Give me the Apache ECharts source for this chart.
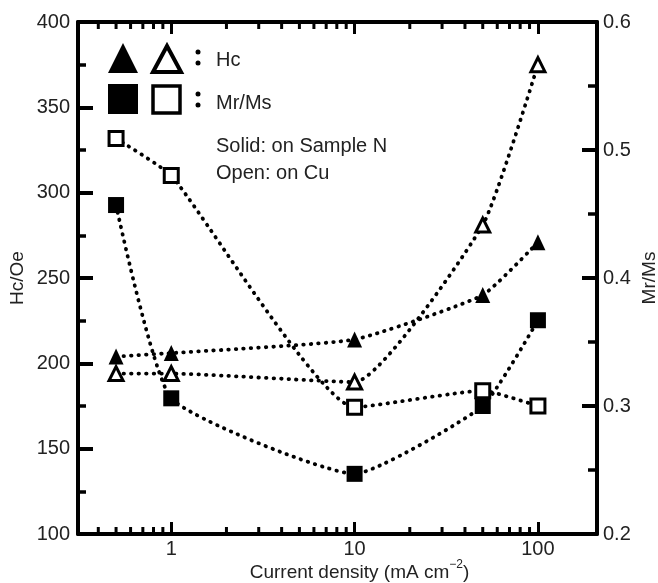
<!DOCTYPE html>
<html lang="en">
<head>
  <meta charset="UTF-8">
  <script src="https://cdn.jsdelivr.net/npm/echarts@6/dist/echarts.min.js"></script>
  <title>Hc and Mr/Ms vs current density</title>
</head>
<body style="margin: 0; background: #fff;">
<div id="chart" style="width: 658px; height: 583px;"></div>
<script type="text/javascript">
  // current density (mA cm^-2)
  let density  = [0.5, 1, 10, 50, 100];
  // coercivity, Oe
  let hcSolid  = [204, 206, 214, 240, 271];
  let hcOpen   = [194, 194, 189, 281, 375];
  // squareness
  let mrSolid  = [0.457, 0.306, 0.247, 0.300, 0.367];
  let mrOpen   = [0.509, 0.480, 0.299, 0.312, 0.300];
  // log-axis minor tick positions
  let xMinor   = [0.4, 0.5, 0.6, 0.7, 0.8, 0.9, 2, 3, 4, 5, 6, 7, 8, 9, 20, 30, 40, 50, 60, 70, 80, 90];

  const FONT = "'Liberation Sans', Arial, sans-serif";
  const dotted = {color: '#000', width: 3.8, type: [0.5, 7], cap: 'round'};

  function pairs(xs, ys) {
    return xs.map(function (x, i) { return [x, ys[i]]; });
  }

  function lineSeries(name, ys, yIndex, symbol, size, open) {
    return {
      name: name,
      type: 'line',
      yAxisIndex: yIndex,
      data: pairs(density, ys),
      smooth: 0.15,
      symbol: symbol,
      symbolSize: size,
      lineStyle: dotted,
      itemStyle: open
          ? {color: '#fff', borderColor: '#000', borderWidth: 3, opacity: 1}
          : {color: '#000', borderWidth: 0, opacity: 1},
      emphasis: {disabled: true},
      animation: false,
      z: open ? 4 : 3
    };
  }

  function drawChart() {
    let chart = echarts.init(document.getElementById('chart'));
    let xCommon = {
      type: 'log',
      min: 0.31,
      max: 210,
      axisLine: {lineStyle: {color: '#000', width: 4}},
      axisTick: {inside: true, length: 12, lineStyle: {color: '#000', width: 3}},
      splitLine: {show: false},
      minorTick: {show: false}
    };
    let option = {
      backgroundColor: '#fff',
      animation: false,
      grid: {left: 78, right: 61, top: 22, bottom: 49, containLabel: false, outerBoundsMode: 'none'},
      xAxis: [
        Object.assign({}, xCommon, {
          position: 'bottom',
          name: 'Current density (mA cm{sup|\u22122})',
          nameLocation: 'middle',
          nameGap: 25,
          nameMoveOverlap: false,
          nameTextStyle: {
            fontFamily: FONT, fontSize: 19, color: '#222', lineHeight: 28,
            padding: [0, 0, 0, 44],
            rich: {sup: {fontFamily: FONT, fontSize: 12, color: '#222', verticalAlign: 'top', lineHeight: 12}}
          },
          axisLabel: {
            fontFamily: FONT, fontSize: 20, color: '#222', margin: 5,
            showMinLabel: false, showMaxLabel: false,
            formatter: function (v) { return String(Math.round(v)); }
          }
        }),
        Object.assign({}, xCommon, {
          position: 'top',
          axisLabel: {show: false}
        })
      ],
      yAxis: [
        {
          type: 'value',
          position: 'left',
          min: 100, max: 400, interval: 50,
          name: 'Hc/Oe',
          nameLocation: 'middle',
          nameRotate: 90,
          nameGap: 51,
          nameMoveOverlap: false,
          nameTextStyle: {fontFamily: FONT, fontSize: 19, color: '#222'},
          axisLine: {show: true, lineStyle: {color: '#000', width: 4}},
          axisTick: {show: true, inside: true, length: 15, lineStyle: {color: '#000', width: 4}},
          minorTick: {show: true, splitNumber: 2, length: 8, lineStyle: {color: '#000', width: 3.5}},
          axisLabel: {fontFamily: FONT, fontSize: 20, color: '#222', margin: 8},
          splitLine: {show: false}
        },
        {
          type: 'value',
          position: 'right',
          min: 0.2, max: 0.6, interval: 0.1,
          name: 'Mr/Ms',
          nameLocation: 'middle',
          nameRotate: 90,
          nameGap: 43,
          nameMoveOverlap: false,
          nameTextStyle: {fontFamily: FONT, fontSize: 19, color: '#222'},
          axisLine: {show: true, lineStyle: {color: '#000', width: 4}},
          axisTick: {show: true, inside: true, length: 15, lineStyle: {color: '#000', width: 4}},
          minorTick: {show: true, splitNumber: 2, length: 9, lineStyle: {color: '#000', width: 3.5}},
          axisLabel: {
            fontFamily: FONT, fontSize: 20, color: '#222', margin: 6,
            formatter: function (v) { return v.toFixed(1); }
          },
          splitLine: {show: false}
        }
      ],
      series: [
        {
          type: 'custom',
          name: 'xMinor',
          xAxisIndex: 0,
          yAxisIndex: 0,
          clip: false,
          silent: true,
          data: xMinor.map(function (v) { return [v, 100]; }),
          renderItem: function (params, api) {
            let x = api.coord([api.value(0), 100])[0];
            let cs = params.coordSys;
            let style = {stroke: '#000', lineWidth: 3};
            return {
              type: 'group',
              children: [
                {type: 'line', shape: {x1: x, y1: cs.y + cs.height, x2: x, y2: cs.y + cs.height - 7}, style: style},
                {type: 'line', shape: {x1: x, y1: cs.y, x2: x, y2: cs.y + 7}, style: style}
              ]
            };
          },
          z: 1
        },
        lineSeries('Hc solid', hcSolid, 0, 'triangle', [15, 16], false),
        lineSeries('Hc open', hcOpen, 0, 'triangle', [14, 14], true),
        lineSeries('Mr/Ms solid', mrSolid, 1, 'rect', 16, false),
        lineSeries('Mr/Ms open', mrOpen, 1, 'rect', 14, true)
      ],
      graphic: [
        {type: 'polygon', shape: {points: [[108, 73], [123, 43], [138, 73]]}, style: {fill: '#000'}},
        {type: 'polygon', shape: {points: [[153, 72], [167, 46], [181, 72]]}, style: {fill: '#fff', stroke: '#000', lineWidth: 4}},
        {type: 'rect', shape: {x: 108, y: 84, width: 30, height: 30}, style: {fill: '#000'}},
        {type: 'rect', shape: {x: 153, y: 86, width: 27, height: 27}, style: {fill: '#fff', stroke: '#000', lineWidth: 3.5}},
        {type: 'circle', shape: {cx: 198, cy: 52, r: 2.5}, style: {fill: '#000'}},
        {type: 'circle', shape: {cx: 198, cy: 63, r: 2.5}, style: {fill: '#000'}},
        {type: 'circle', shape: {cx: 198, cy: 94, r: 2.5}, style: {fill: '#000'}},
        {type: 'circle', shape: {cx: 198, cy: 105, r: 2.5}, style: {fill: '#000'}},
        {type: 'text', x: 216, y: 60, style: {text: 'Hc', font: '20px ' + FONT, fill: '#222', verticalAlign: 'middle'}},
        {type: 'text', x: 216, y: 103, style: {text: 'Mr/Ms', font: '20px ' + FONT, fill: '#222', verticalAlign: 'middle'}},
        {type: 'text', x: 216, y: 146, style: {text: 'Solid: on Sample N', font: '20px ' + FONT, fill: '#222', verticalAlign: 'middle'}},
        {type: 'text', x: 216, y: 173, style: {text: 'Open: on Cu', font: '20px ' + FONT, fill: '#222', verticalAlign: 'middle'}}
      ]
    };
    chart.setOption(option);
  }

  drawChart();
</script>
</body>
</html>
